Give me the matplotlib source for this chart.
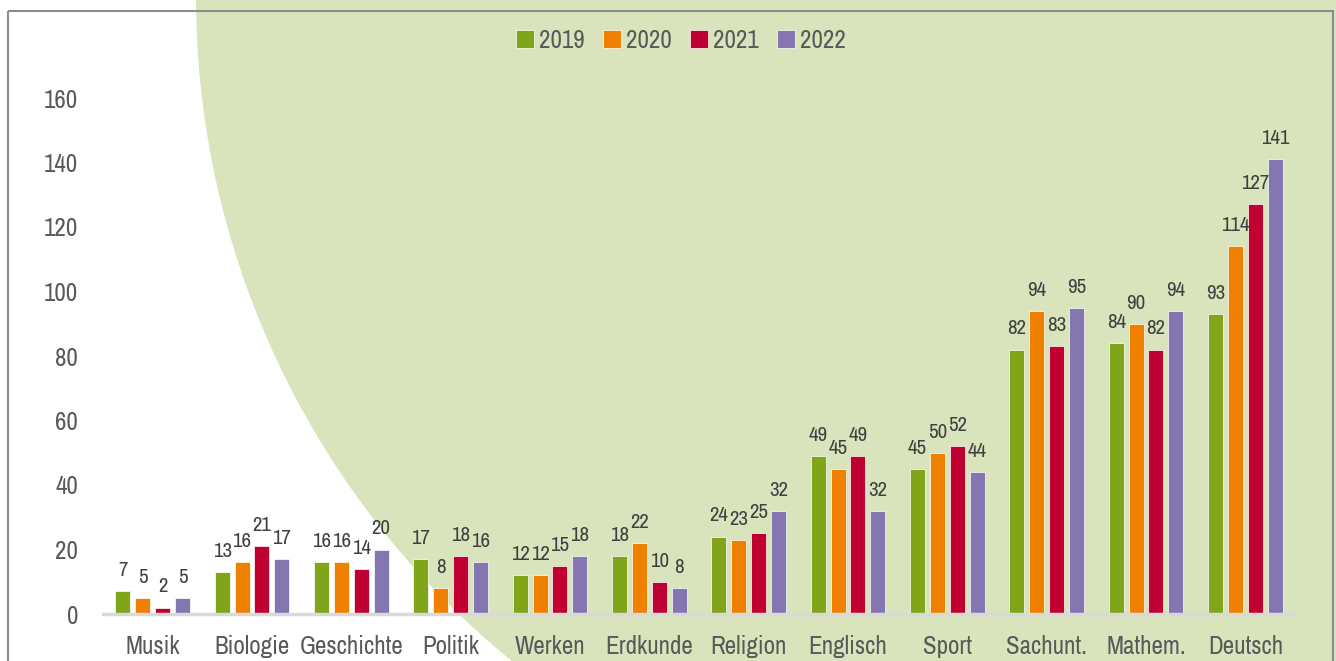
import matplotlib
matplotlib.use("Agg")
from matplotlib import pyplot as plt
from matplotlib import font_manager
from matplotlib.patches import Circle, Rectangle
import numpy as np

# data
subjects = ["Musik", "Biologie", "Geschichte", "Politik", "Werken", "Erdkunde",
            "Religion", "Englisch", "Sport", "Sachunt.", "Mathem.", "Deutsch"]
years = ["2019", "2020", "2021", "2022"]
v2019 = [7, 13, 16, 17, 12, 18, 24, 49, 45, 82, 84, 93]
v2020 = [5, 16, 16, 8, 12, 22, 23, 45, 50, 94, 90, 114]
v2021 = [2, 21, 14, 18, 15, 10, 25, 49, 52, 83, 82, 127]
v2022 = [5, 17, 20, 16, 18, 8, 32, 32, 44, 95, 94, 141]
colors = ["#80A51A", "#F08000", "#C00030", "#8476B1"]


def narrow_font():
    # look for some condensed face among the installed fonts
    best = None
    for f in font_manager.fontManager.ttflist:
        name = f.name.lower()
        path = f.fname.lower()
        st = str(f.stretch).lower()
        if f.weight not in (400, "normal", "regular"):
            continue
        if "italic" in path or f.style != "normal":
            continue
        score = 0
        if "narrow" in name or "narrow" in path:
            score = 5
        elif "extracondensed" in path or "extra-condensed" in st:
            score = 3
        elif "semicondensed" in path or "semi-condensed" in st:
            score = 2
        elif "condensed" in name or "condensed" in path or st == "condensed":
            score = 4
        if score and (best is None or score > best[0]):
            best = (score, f.fname)
    if best:
        return best[1]
    return None


fpath = narrow_font()


def fp(size):
    if fpath:
        return font_manager.FontProperties(fname=fpath, size=size)
    return font_manager.FontProperties(family="DejaVu Sans", size=size * 0.8)


W, H = 1336, 661
fig = plt.figure(figsize=(W / 100, H / 100), dpi=100)

# background: big green circle and grey frame, drawn in pixel space
bg = fig.add_axes([0, 0, 1, 1], zorder=0)
bg.set_xlim(0, W)
bg.set_ylim(H, 0)
bg.axis("off")
bg.add_patch(Circle((1052, -3), 856, facecolor="#D9E4BD", edgecolor="none"))
bg.add_patch(Rectangle((8, 11), 1325, 700, facecolor="none", edgecolor="#8C8C8C", lw=1.5))

ax = fig.add_axes([103 / W, 47 / H, (1295 - 103) / W, 516 / H], zorder=1)
ax.patch.set_alpha(0)

x = np.arange(len(subjects))
width = 0.15
offsets = [-0.3, -0.1, 0.1, 0.3]
series = [v2019, v2020, v2021, v2022]
for vals, off, col, yr in zip(series, offsets, colors, years):
    bars = ax.bar(x + off, vals, width, color=col, edgecolor="#FFFFFF", linewidth=0.5, label=yr)
    for b, v in zip(bars, vals):
        ax.annotate(str(v), (b.get_x() + b.get_width() / 2, v), xytext=(0, 8),
                    textcoords="offset points", ha="center", va="bottom",
                    fontproperties=fp(15), color="#404040")

ax.set_xlim(-0.5, len(subjects) - 0.5)
ax.set_ylim(0, 160)
ax.set_yticks(range(0, 161, 20))
ax.set_xticks(x)
ax.set_xticklabels(subjects)
ax.tick_params(axis="both", length=0, labelcolor="#595959")
ax.tick_params(axis="x", pad=15)
ax.tick_params(axis="y", pad=18)
for lab in ax.get_xticklabels() + ax.get_yticklabels():
    lab.set_fontproperties(fp(18))
for s in ["top", "right", "left"]:
    ax.spines[s].set_visible(False)
ax.spines["bottom"].set_color("#D9D9D9")
ax.spines["bottom"].set_linewidth(2.5)

leg = fig.legend(loc="center", bbox_to_anchor=(681 / W, 1 - 40 / H), ncol=4, frameon=False,
                 prop=fp(18), handlelength=0.7, handleheight=0.7, handletextpad=0.2,
                 columnspacing=0.75)
for t in leg.get_texts():
    t.set_color("#595959")

fig.savefig("out.png", dpi=100)
